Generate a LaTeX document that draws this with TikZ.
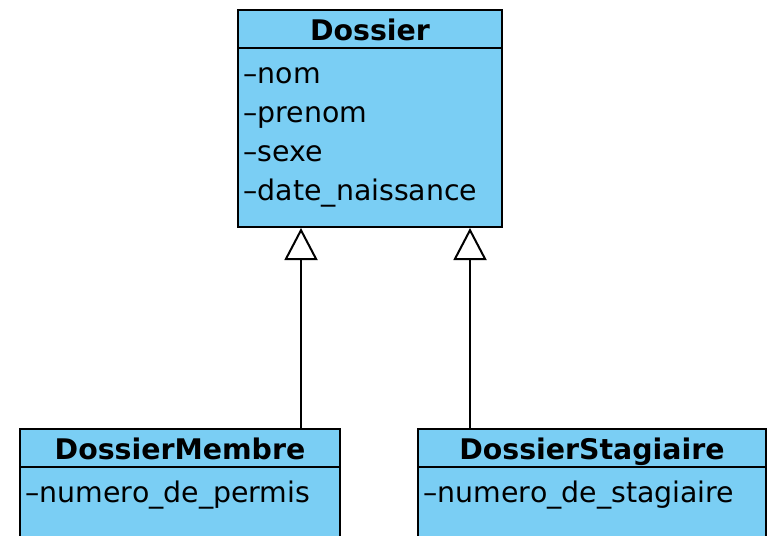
\documentclass[tikz,border=0pt]{standalone}
\usepackage{fontspec}
\setmainfont{DejaVu Sans}
\usetikzlibrary{arrows.meta,positioning}
\definecolor{umlblue}{HTML}{7ACEF4}

\begin{document}
\begin{tikzpicture}[x=0.5pt, y=-0.5pt,
  classname/.style={draw, line width=1pt, fill=umlblue, anchor=north, inner sep=0pt,
                    outer sep=0pt, minimum height=19pt, text height=11pt, text depth=0pt,
                    font=\fontsize{14.2}{19.5}\selectfont\bfseries},
  attrs/.style={draw, line width=1pt, fill=umlblue, inner xsep=2.8pt, inner ysep=0pt,
                outer sep=0pt, align=left, font=\fontsize{14.2}{19.5}\selectfont},
  inherits/.style={line width=1pt, -{Triangle[open, length=16pt, width=16.5pt, fill=white]}}]
\useasboundingbox (0,0) rectangle (772,536);
\clip (0,0) rectangle (772,536);

% superclass
\node[classname, minimum width=132pt] (dossier) at (370,10) {Dossier};
\node[attrs, below=0pt of dossier, text width=126.4pt, minimum height=89.5pt] (fields)
  {\textendash nom\\\textendash prenom\\\textendash sexe\\\textendash date\_naissance};

% subclasses (run off the bottom edge)
\node[classname, minimum width=160pt] (membre) at (180,429) {DossierMembre};
\node[attrs, below=0pt of membre, text width=154.4pt, inner ysep=6.5pt,
      text height=11pt, text depth=60pt] (membrefields) {\textendash numero\_de\_permis};
\node[classname, minimum width=174pt] (stagiaire) at (592,429) {DossierStagiaire};
\node[attrs, below=0pt of stagiaire, text width=168.4pt, inner ysep=6.5pt,
      text height=11pt, text depth=60pt] (stagiairefields) {\textendash numero\_de\_stagiaire};

% generalisations
\coordinate (tipL) at ([xshift=-34.5pt, yshift=-0.5pt]fields.south);
\coordinate (tipR) at ([xshift=50pt, yshift=-0.5pt]fields.south);
\draw[inherits] (membre.north -| tipL) -- (tipL);
\draw[inherits] (stagiaire.north -| tipR) -- (tipR);
\end{tikzpicture}
\end{document}
